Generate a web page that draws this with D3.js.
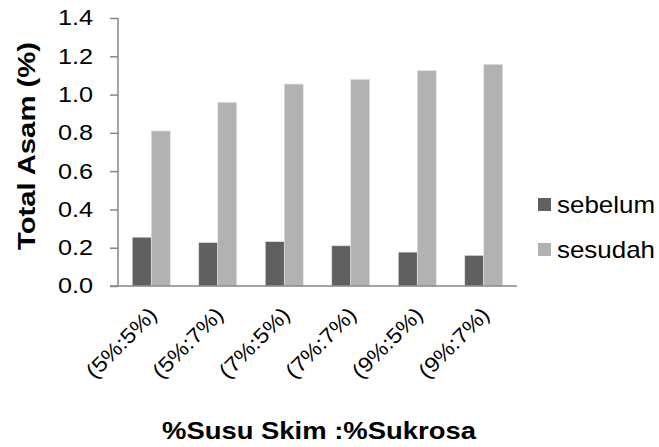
<!DOCTYPE html>
<html><head><meta charset="utf-8">
<script src="https://cdn.jsdelivr.net/npm/d3@7"></script>
<style>body{margin:0;background:#fff}svg{display:block}</style>
</head><body>
<svg id="c" width="659" height="447"></svg>
<script>
const categories = ["(5%:5%)","(5%:7%)","(7%:5%)","(7%:7%)","(9%:5%)","(9%:7%)"];
const seriesNames = ["sebelum","sesudah"];
const sebelum = [0.255,0.227,0.232,0.210,0.177,0.160];
const sesudah = [0.810,0.960,1.055,1.080,1.125,1.158];
const yTicks = [0,0.2,0.4,0.6,0.8,1.0,1.2,1.4];
const colors = ["#606060","#b2b2b2"];

const svg = d3.select("#c");
const font = "'Liberation Sans', Arial, sans-serif";
const axisColor = "#868686";

const x0 = d3.scaleBand().domain(categories).range([118,517]).paddingInner(0.4286).paddingOuter(0.2143);
const x1 = d3.scaleBand().domain(seriesNames).range([0,x0.bandwidth()]);
const y = d3.scaleLinear().domain([0,1.4]).range([286,18]);
const color = d3.scaleOrdinal().domain(seriesNames).range(colors);

const data = categories.map((c,i)=>({cat:c, vals:[{k:"sebelum",v:sebelum[i]},{k:"sesudah",v:sesudah[i]}]}));

// bars
const g = svg.append("g");
g.selectAll("g.grp").data(data).join("g").attr("class","grp")
 .attr("transform",d=>`translate(${x0(d.cat)},0)`)
 .selectAll("rect").data(d=>d.vals).join("rect")
 .attr("x",d=>x1(d.k)).attr("width",x1.bandwidth())
 .attr("y",d=>y(d.v)).attr("height",d=>y(0)-y(d.v))
 .attr("fill",d=>color(d.k)).attr("stroke","#e4e4e4").attr("stroke-width",0.6);

// y axis
const ya = svg.append("g").attr("transform","translate(118,0)")
 .call(d3.axisLeft(y).tickValues(yTicks).tickFormat(d3.format(".1f")).tickSize(8).tickPadding(17));
ya.select(".domain").attr("stroke",axisColor).attr("stroke-width",1.5).attr("d","M0,18V286");
ya.selectAll(".tick line").attr("stroke",axisColor).attr("stroke-width",1.5);
ya.selectAll(".tick text").attr("fill","#000").style("font-family",font).style("font-size","21.5px")
  .attr("textLength",35).attr("lengthAdjust","spacingAndGlyphs");

// x axis
const xa = svg.append("g").attr("transform","translate(0,286)")
 .call(d3.axisBottom(x0).tickSize(0).tickFormat(""));
xa.select(".domain").attr("stroke",axisColor).attr("stroke-width",1.5).attr("d","M110,0H517");

// category labels
svg.append("g").selectAll("text").data(categories).join("text")
 .attr("transform",d=>`translate(${x0(d)+x0.bandwidth()/2+7},316) rotate(-45)`)
 .attr("text-anchor","end").style("font-family",font).style("font-size","21px")
 .attr("textLength",90).attr("lengthAdjust","spacingAndGlyphs")
 .text(d=>d);

// axis titles
svg.append("text").attr("transform","translate(35,146) rotate(-90)")
 .attr("text-anchor","middle").style("font-family",font).style("font-size","24px").style("font-weight","bold")
 .attr("textLength",208).attr("lengthAdjust","spacingAndGlyphs")
 .text("Total Asam (%)");
svg.append("text").attr("x",319).attr("y",439)
 .attr("text-anchor","middle").style("font-family",font).style("font-size","24px").style("font-weight","bold")
 .attr("textLength",314).attr("lengthAdjust","spacingAndGlyphs")
 .text("%Susu Skim :%Sukrosa");

// legend
const legY = [204.5,249.5];
const leg = svg.append("g").selectAll("g").data(seriesNames).join("g")
 .attr("transform",(d,i)=>`translate(538,${legY[i]})`);
leg.append("rect").attr("x",0).attr("y",-6.5).attr("width",13).attr("height",13).attr("fill",d=>color(d));
leg.append("text").attr("x",19).attr("y",8.5).style("font-family",font).style("font-size","24px")
 .attr("textLength",98).attr("lengthAdjust","spacingAndGlyphs").text(d=>d);
</script>
</body></html>
